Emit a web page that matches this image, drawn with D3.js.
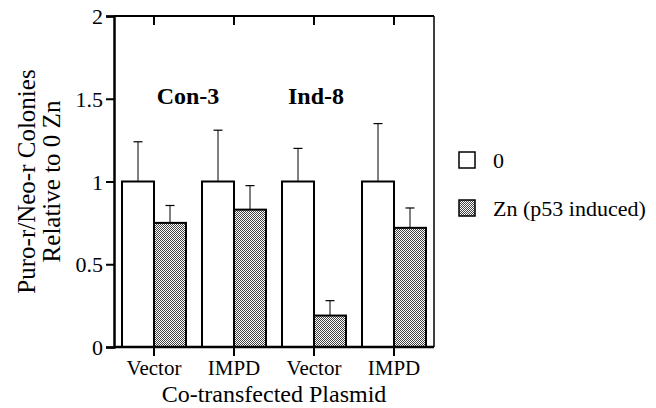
<!DOCTYPE html>
<html>
<head>
<meta charset="utf-8">
<script src="https://cdn.jsdelivr.net/npm/d3@7"></script>
<style>
  body { margin: 0; background: #fff; }
</style>
</head>
<body>
<script>
// chart data
var plasmids = ["Vector", "IMPD", "Vector", "IMPD"];
var cellLines = ["Con-3", "Ind-8"];
var series = ["0", "Zn (p53 induced)"];
var zeroZn = [1, 1, 1, 1];
var zeroZnErr = [1.24, 1.31, 1.20, 1.35];
var withZn = [0.75, 0.83, 0.19, 0.72];
var withZnErr = [0.855, 0.975, 0.28, 0.84];
var yTicks = [0, 0.5, 1, 1.5, 2];

var width = 656, height = 408;
var margin = {left: 114, right: 222, top: 16, bottom: 61};
var serif = "'Liberation Serif', 'Times New Roman', serif";

var svg = d3.select("body").append("svg")
    .attr("width", width)
    .attr("height", height);

// dithered fill for the Zn bars
var pat = svg.append("defs").append("pattern")
    .attr("id", "dots")
    .attr("width", 2).attr("height", 2)
    .attr("patternUnits", "userSpaceOnUse");
pat.append("rect").attr("width", 2).attr("height", 2).attr("fill", "#fff");
pat.append("rect").attr("width", 1).attr("height", 1).attr("fill", "#444");
pat.append("rect").attr("x", 1).attr("y", 1).attr("width", 1).attr("height", 1).attr("fill", "#444");

var x = d3.scaleBand()
    .domain(d3.range(plasmids.length))
    .range([margin.left, width - margin.right])
    .paddingInner(0.2)
    .paddingOuter(0.1);

var y = d3.scaleLinear()
    .domain([0, 2])
    .range([height - margin.bottom, margin.top]);

var bw = x.bandwidth() / 2;

//rows for the bars
var rows = plasmids.map(function(p, i){
    return [
        {i: i, s: 0, v: zeroZn[i], e: zeroZnErr[i]},
        {i: i, s: 1, v: withZn[i], e: withZnErr[i]}
    ];
});
var bars = [].concat.apply([], rows);

// error bars first so the bar outline covers the stem base
var err = svg.selectAll(".err")
    .data(bars)
    .enter().append("g")
    .attr("class", "err");
err.append("line")
    .attr("x1", function(d){ return x(d.i) + d.s * bw + bw / 2; })
    .attr("x2", function(d){ return x(d.i) + d.s * bw + bw / 2; })
    .attr("y1", function(d){ return y(d.v); })
    .attr("y2", function(d){ return y(d.e); })
    .attr("stroke", "#000").attr("stroke-width", 1);
err.append("line")
    .attr("x1", function(d){ return x(d.i) + d.s * bw + bw / 2 - 4.5; })
    .attr("x2", function(d){ return x(d.i) + d.s * bw + bw / 2 + 4.5; })
    .attr("y1", function(d){ return y(d.e); })
    .attr("y2", function(d){ return y(d.e); })
    .attr("stroke", "#000").attr("stroke-width", 1.2);

svg.selectAll(".bar")
    .data(bars)
    .enter().append("rect")
    .attr("class", "bar")
    .attr("x", function(d){ return x(d.i) + d.s * bw; })
    .attr("y", function(d){ return y(d.v); })
    .attr("width", bw)
    .attr("height", function(d){ return y(0) - y(d.v); })
    .attr("fill", function(d){ return d.s ? "url(#dots)" : "#fff"; })
    .attr("stroke", "#000")
    .attr("stroke-width", 2);

// frame
var x0 = margin.left, x1 = width - margin.right;
svg.append("line").attr("x1", x0).attr("x2", x1).attr("y1", y(2)).attr("y2", y(2))
    .attr("stroke", "#000").attr("stroke-width", 2);
svg.append("line").attr("x1", x1).attr("x2", x1).attr("y1", y(2)).attr("y2", y(0))
    .attr("stroke", "#000").attr("stroke-width", 1.5);

// y axis
var yAxis = svg.append("g")
    .attr("transform", "translate(" + x0 + ",0)")
    .call(d3.axisLeft(y).tickValues(yTicks).tickSize(8).tickPadding(3)
        .tickFormat(function(d){ return d3.format("")(d); }));
yAxis.select(".domain").attr("stroke-width", 2.5);
yAxis.selectAll(".tick line").attr("stroke-width", 2);
yAxis.selectAll("text")
    .style("font-family", serif)
    .style("font-size", "22px")
    .attr("dy", "0.35em");

// x axis bottom
var ticksX = d3.range(plasmids.length).map(function(i){ return x(i) + x.bandwidth() / 2; });
var xb = svg.append("g");
xb.append("line").attr("x1", x0).attr("x2", x1).attr("y1", y(0)).attr("y2", y(0))
    .attr("stroke", "#000").attr("stroke-width", 2.5);
xb.selectAll(".tb").data(ticksX).enter().append("line")
    .attr("x1", function(d){ return d; }).attr("x2", function(d){ return d; })
    .attr("y1", y(0)).attr("y2", y(0) + 9)
    .attr("stroke", "#000").attr("stroke-width", 2);
xb.selectAll(".tl").data(plasmids).enter().append("text")
    .attr("x", function(d, i){ return ticksX[i]; })
    .attr("y", y(0) + 28)
    .attr("text-anchor", "middle")
    .style("font-family", serif)
    .style("font-size", "21px")
    .text(function(d){ return d; });

// x axis top ticks
svg.selectAll(".tt").data(ticksX).enter().append("line")
    .attr("x1", function(d){ return d; }).attr("x2", function(d){ return d; })
    .attr("y1", y(2)).attr("y2", y(2) + 9)
    .attr("stroke", "#000").attr("stroke-width", 2);

// axis titles
svg.append("text")
    .attr("x", (x0 + x1) / 2)
    .attr("y", 402)
    .attr("text-anchor", "middle")
    .style("font-family", serif)
    .style("font-size", "24px")
    .text("Co-transfected Plasmid");

var yt = svg.append("text")
    .attr("transform", "translate(0," + y(1) + ") rotate(-90)")
    .attr("text-anchor", "middle")
    .style("font-family", serif)
    .style("font-size", "25px");
yt.append("tspan").attr("x", 0).attr("y", 35).text("Puro-r/Neo-r Colonies");
yt.append("tspan").attr("x", 0).attr("y", 60).text("Relative to 0 Zn");

// cell line labels, a bit left of each group's centre
var labelShift = [-6, -38];
svg.selectAll(".cl").data(cellLines).enter().append("text")
    .attr("x", function(d, i){ return (ticksX[i * 2] + ticksX[i * 2 + 1]) / 2 + labelShift[i]; })
    .attr("y", 104)
    .attr("text-anchor", "middle")
    .style("font-family", serif)
    .style("font-size", "24px")
    .style("font-weight", "bold")
    .text(function(d){ return d; });

// legend
var lg = svg.selectAll(".lg").data(series).enter().append("g")
    .attr("transform", function(d, i){ return "translate(459," + (152 + i * 48) + ")"; });
lg.append("rect")
    .attr("width", 16).attr("height", 16)
    .attr("fill", function(d, i){ return i ? "url(#dots)" : "#fff"; })
    .attr("stroke", "#000").attr("stroke-width", 1.5);
lg.append("text")
    .attr("x", 34).attr("y", 16)
    .style("font-family", serif)
    .style("font-size", "22px")
    .text(function(d){ return d; });
</script>
</body>
</html>
